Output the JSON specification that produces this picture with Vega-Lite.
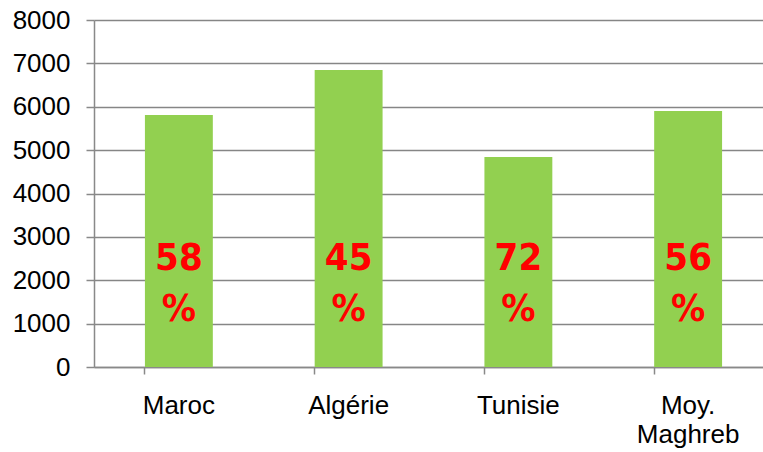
{
  "$schema": "https://vega.github.io/schema/vega-lite/v6.json",
  "autosize": "none",
  "width": 679,
  "height": 347,
  "padding": {"left": 94, "top": 20, "right": 0, "bottom": 85},
  "background": "white",
  "config": {"view": {"stroke": null}},
  "data": {
    "values": [
      {"pays": "Maroc", "valeur": 5810, "part": "58 %"},
      {"pays": "Algérie", "valeur": 6850, "part": "45 %"},
      {"pays": "Tunisie", "valeur": 4840, "part": "72 %"},
      {"pays": "Moy. Maghreb", "valeur": 5900, "part": "56 %"}
    ]
  },
  "encoding": {
    "x": {
      "field": "pays",
      "type": "nominal",
      "sort": null,
      "scale": {"paddingInner": 0.6, "paddingOuter": 0.3},
      "axis": {
        "title": null,
        "labelAngle": 0,
        "labelFont": "Liberation Sans",
        "labelFontSize": 26,
        "labelColor": "#000000",
        "labelPadding": 18,
        "labelLineHeight": 29,
        "labelExpr": "datum.label == 'Moy. Maghreb' ? ['Moy.', 'Maghreb'] : datum.label",
        "bandPosition": 0,
        "tickSize": 7,
        "tickColor": "#898989",
        "tickWidth": 1.5,
        "domainColor": "#898989",
        "domainWidth": 1.5,
        "grid": false
      }
    }
  },
  "layer": [
    {
      "mark": {"type": "bar", "color": "#92D050"},
      "encoding": {
        "y": {
          "field": "valeur",
          "type": "quantitative",
          "scale": {"domain": [0, 8000], "nice": false},
          "axis": {
            "title": null,
            "values": [0, 1000, 2000, 3000, 4000, 5000, 6000, 7000, 8000],
            "format": "d",
            "labelFont": "Liberation Sans",
            "labelFontSize": 26,
            "labelColor": "#000000",
            "labelPadding": 16,
            "tickSize": 8,
            "tickColor": "#898989",
            "tickWidth": 1.5,
            "domainColor": "#898989",
            "domainWidth": 1.5,
            "grid": true,
            "gridColor": "#868686",
            "gridWidth": 1.6
          }
        }
      }
    },
    {
      "mark": {
        "type": "text",
        "font": "DejaVu Sans Condensed",
        "fontWeight": "bold",
        "fontSize": 38,
        "color": "#FF0000",
        "baseline": "alphabetic",
        "align": "center",
        "lineBreak": " ",
        "lineHeight": 51
      },
      "encoding": {
        "y": {"datum": 2240, "type": "quantitative"},
        "text": {"field": "part"}
      }
    }
  ]
}
